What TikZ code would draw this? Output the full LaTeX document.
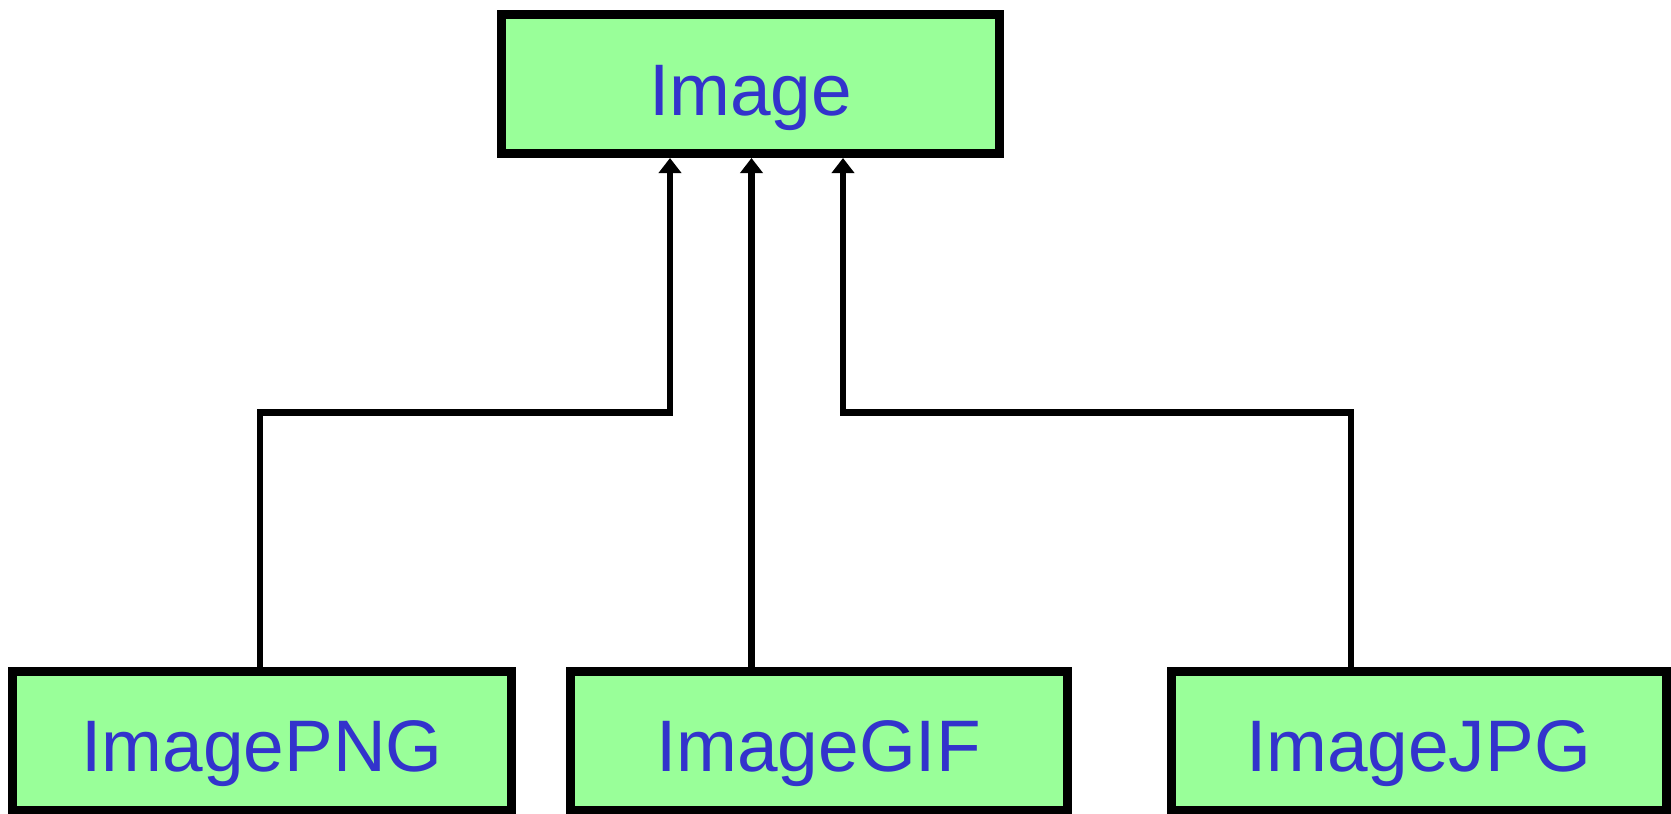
\documentclass[tikz,border=0pt]{standalone}
\usepackage{fontspec}
\setmainfont{Liberation Sans}
\usetikzlibrary{arrows.meta}
\definecolor{boxfill}{HTML}{99FF99}
\definecolor{labelblue}{HTML}{3333CC}
\begin{document}
\begin{tikzpicture}[x=1pt,y=-1pt,
  classbox/.style={draw=black, line width=9pt, fill=boxfill,
    text=labelblue, font=\fontsize{73}{80}\selectfont,
    inner sep=0pt, text height=62pt, text depth=0pt,
    minimum height=139pt},
  inherit/.style={draw=black, line width=6.5pt,
    -{Triangle[width=22pt,length=15pt]}}]
  \useasboundingbox (0,0) rectangle (1671,814);

  % classes
  \node[classbox, minimum width=498pt] (img) at (750.5,84) {Image};
  \node[classbox, minimum width=499pt] (png) at (262,740.5) {ImagePNG};
  \node[classbox, minimum width=497pt] (gif) at (818.5,740.5) {ImageGIF};
  \node[classbox, minimum width=495pt] (jpg) at (1418.5,740.5) {ImageJPG};

  % elbows of the inheritance lines
  \coordinate (jl) at (670,412.5);
  \coordinate (jr) at (843,412.5);

  % inheritance connectors
  \draw[inherit] ([xshift=-2pt]png.north) |- (jl) -- (jl |- img.south);
  \draw[inherit] ([xshift=-67pt]gif.north) -- ([xshift=1pt]img.south);
  \draw[inherit] ([xshift=-67.5pt]jpg.north) |- (jr) -- (jr |- img.south);
\end{tikzpicture}
\end{document}
